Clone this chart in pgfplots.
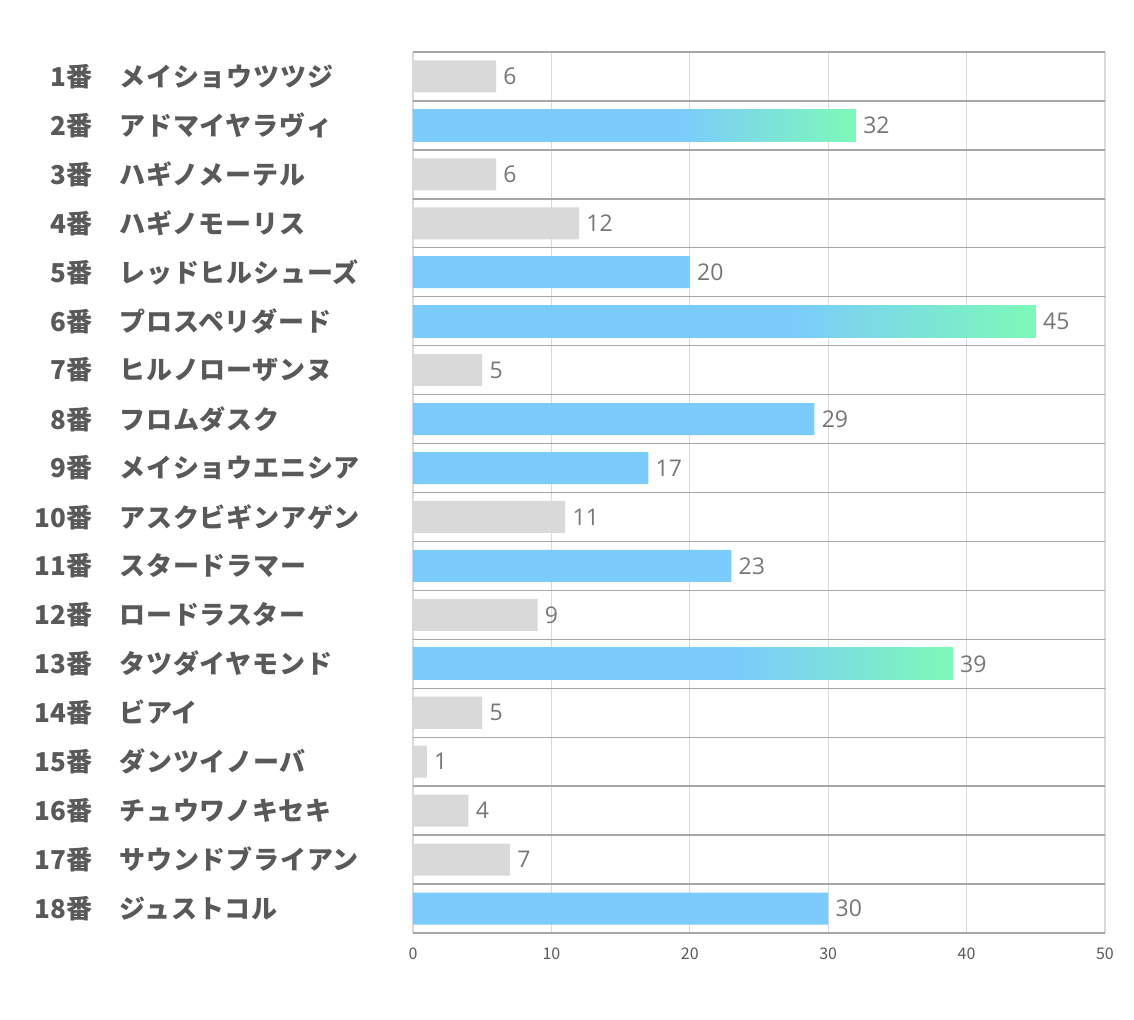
\documentclass[border=0pt]{standalone}
\usepackage{pgfplots}
\pgfplotsset{compat=1.18}
\usepackage{fontspec}
\setmainfont{Noto Sans CJK JP}
\newfontfamily\labfont[LetterSpace=3]{Noto Sans CJK JP}
\newfontfamily\valfont{Open Sans}
\definecolor{barblue}{HTML}{7BCBFC}
\definecolor{bargreen}{HTML}{7DF9B8}
\definecolor{bargray}{HTML}{D9D9D9}
\definecolor{labgray}{HTML}{595959}
\definecolor{valgray}{HTML}{767676}
\definecolor{gridlight}{HTML}{D9D9D9}
\definecolor{griddark}{HTML}{A6A6A6}
\pgfdeclarehorizontalshading{bg}{100bp}{color(0bp)=(barblue); color(25bp)=(barblue); color(55bp)=(barblue); color(75bp)=(bargreen); color(100bp)=(bargreen)}
\newcommand\lab[2]{\makebox[30pt][r]{\bfseries #1番}\hspace{13.5pt}\makebox[129pt][l]{\labfont\bfseries #2}}
\begin{document}
\begin{tikzpicture}
\path[use as bounding box] (-206.5pt,-43.5pt) rectangle (360.5pt,466.5pt);
\begin{axis}[
  scale only axis, width=346pt, height=440.5pt,
  xmin=0, xmax=50, ymin=0.5, ymax=18.5, y dir=reverse,
  xtick={0,10,...,50}, ytick={1,...,18},
  yticklabels={\lab{1}{メイショウツツジ},\lab{2}{アドマイヤラヴィ},\lab{3}{ハギノメーテル},\lab{4}{ハギノモーリス},\lab{5}{レッドヒルシューズ},\lab{6}{プロスペリダード},\lab{7}{ヒルノローザンヌ},\lab{8}{フロムダスク},\lab{9}{メイショウエニシア},\lab{10}{アスクビギンアゲン},\lab{11}{スタードラマー},\lab{12}{ロードラスター},\lab{13}{タツダイヤモンド},\lab{14}{ビアイ},\lab{15}{ダンツイノーバ},\lab{16}{チュウワノキセキ},\lab{17}{サウンドブライアン},\lab{18}{ジュストコル}},
  minor ytick={0.5,1.5,...,18.5},
  xmajorgrids, yminorgrids, ymajorgrids=false,
  major grid style={draw=gridlight, line width=0.6pt},
  minor grid style={draw=griddark, line width=0.7pt},
  axis line style={draw=none},
  major tick length=0pt, minor tick length=0pt,
  /pgf/number format/assume math mode=true,
  yticklabel style={font=\fontsize{13}{15}\selectfont, text=labgray, anchor=east, inner sep=0pt, xshift=-17.5pt},
  xticklabel style={font=\fontsize{8}{9}\selectfont, text=labgray, yshift=-4pt},
  xbar, bar width=16pt, bar shift=0pt,
  point meta=x,
  nodes near coords align={horizontal},
  every node near coord/.append style={font=\valfont\fontsize{11.5}{13}\selectfont, text=valgray, inner sep=0pt, xshift=3.5pt},
]
\addplot[fill=bargray, draw=none, nodes near coords] coordinates {(6,1) (6,3) (12,4) (5,7) (11,10) (9,12) (5,14) (1,15) (4,16) (7,17)};
\addplot[fill=barblue, draw=none, nodes near coords] coordinates {(32,2) (20,5) (45,6) (29,8) (17,9) (23,11) (39,13) (30,18)};
\addplot[shading=bg, draw=none] coordinates {(32,2)};
\addplot[shading=bg, draw=none] coordinates {(45,6)};
\addplot[shading=bg, draw=none] coordinates {(39,13)};
\end{axis}
\end{tikzpicture}
\end{document}
